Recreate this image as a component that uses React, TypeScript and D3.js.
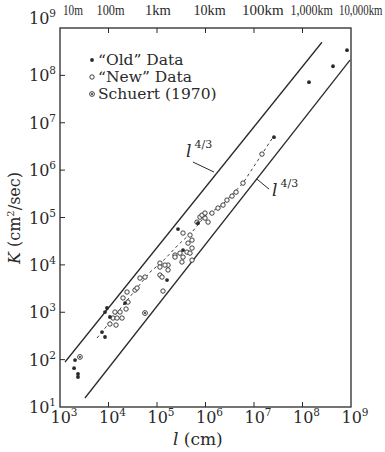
import * as d3 from "d3";

// length scale l (cm), diffusivity K (cm^2/sec)
const oldData: [number, number][] = [
  [2.04e3, 98], [1.95e3, 66], [2.35e3, 50], [2.35e3, 43],
  [8.47e3, 1.01e3], [1.07e4, 793], [7.35e3, 382], [8.47e3, 300],
  [2.19e4, 1.56e3], [9.3e3, 1.23e3], [1.61e5, 4.78e3], [2.71e5, 5.69e4],
  [7.0e5, 7.6e4], [3.44e5, 2.05e4], [2.58e7, 4.97e6], [1.36e8, 7.2e7],
  [4.26e8, 1.56e8], [8.28e8, 3.4e8],
];

const newData: [number, number][] = [
  [1.07e4, 564], [1.24e4, 755], [1.5e4, 755], [1.9e4, 755], [1.43e4, 537],
  [1.73e4, 1.01e3], [1.36e4, 1.01e3], [2.3e4, 1.17e3], [2.52e4, 1.64e3],
  [1.99e4, 2.0e3], [2.41e4, 2.67e3], [3.52e4, 2.94e3], [3.87e4, 3.24e3],
  [4.46e4, 5.27e3], [5.66e4, 5.53e3], [1.15e5, 1.09e4], [1.15e5, 9.0e3],
  [1.15e5, 6.1e3], [1.69e5, 9.9e3], [2.35e5, 1.61e4], [1.33e5, 2.8e3],
  [3.44e5, 4.69e4], [4.79e5, 4.26e4], [5.27e5, 3.33e4], [4.36e5, 2.88e4],
  [4.16e5, 1.86e4], [4.79e5, 1.77e4], [5.27e5, 2.26e4], [2.98e5, 1.77e4],
  [3.44e5, 1.46e4], [3.27e5, 1.15e4], [5.27e5, 1.26e4], [2.35e5, 1.46e4],
  [1.46e5, 9.9e3], [1.27e5, 5.53e3], [1.69e5, 7.8e3], [6.68e5, 8.0e4],
  [7.7e5, 1.02e5], [9.77e5, 9.7e4], [1.13e6, 8.0e4], [8.47e5, 1.12e5],
  [9.77e5, 1.24e5], [1.36e6, 1.24e5], [1.81e6, 1.58e5], [2.3e6, 1.83e5],
  [2.77e6, 2.33e5], [3.52e6, 2.83e5], [4.26e6, 3.43e5], [5.93e6, 5.32e5],
  [1.46e7, 2.18e6],
];

const schuertData: [number, number][] = [[2.58e3, 114], [5.66e4, 962]];

// dashed curve through the new data
const trendData: [number, number][] = [
  [5.8e3, 286], [1.07e4, 621], [2.09e4, 1.49e3], [3.87e4, 3.24e3],
  [7.18e4, 7.05e3], [1.27e5, 1.15e4], [2.71e5, 2.62e4], [5.27e5, 4.92e4],
  [9.77e5, 1.07e5], [2.19e6, 1.83e5], [5.93e6, 5.32e5], [1.46e7, 2.18e6],
  [2.47e7, 4.97e6],
];

// the two l^{4/3} guide lines
const upperLine: [number, number][] = [[1.27e3, 89], [2.52e8, 5.0e8]];
const lowerLine: [number, number][] = [[3.27e3, 15.5], [9.53e8, 2.09e8]];

const xTicks = [1e3, 1e4, 1e5, 1e6, 1e7, 1e8, 1e9];
const yTicks = [1e1, 1e2, 1e3, 1e4, 1e5, 1e6, 1e7, 1e8, 1e9];
const kmLabels = ["10m", "100m", "1km", "10km", "100km", "1,000km", "10,000km"];
// horizontal squeeze of each top label (the print uses condensed digits)
const kmSqueeze = [0.75, 0.82, 0.97, 0.94, 1.0, 0.8, 0.72];
const legendItems = ["\u201COld\u201D Data", "\u201CNew\u201D Data", "Schuert (1970)"];

const W = 385;
const H = 452;
const ink = "#2a2a2a";
const font = "'DejaVu Serif', serif";

export default function App() {
  const x = d3.scaleLog().domain([1e3, 1e9]).range([60, 351]);
  const y = d3.scaleLog().domain([1e1, 1e9]).range([407, 28]);
  const line = d3.line<[number, number]>().x((d) => x(d[0])).y((d) => y(d[1]));
  const exp = (v: number) => Math.round(Math.log10(v));

  const marker = (kind: number, cx: number, cy: number, key: string | number) => {
    if (kind === 0) return <circle key={key} cx={cx} cy={cy} r={1.9} fill={ink} />;
    if (kind === 1)
      return <circle key={key} cx={cx} cy={cy} r={2.2} fill="white" stroke={ink} strokeWidth={0.9} />;
    return (
      <g key={key}>
        <circle cx={cx} cy={cy} r={2.4} fill="white" stroke={ink} strokeWidth={0.9} />
        <circle cx={cx} cy={cy} r={1} fill={ink} />
      </g>
    );
  };

  return (
    <svg width={W} height={H} style={{ position: "absolute", left: 0, top: 0, background: "white" }} fontFamily={font}>
      {/* frame */}
      <rect x={60} y={28} width={291} height={379} fill="none" stroke={ink} strokeWidth={1.3} />

      {/* ticks */}
      {xTicks.slice(1, -1).map((t) => (
        <g key={"xt" + t}>
          <line x1={x(t)} x2={x(t)} y1={407} y2={402} stroke={ink} />
          <line x1={x(t)} x2={x(t)} y1={28} y2={33} stroke={ink} />
        </g>
      ))}
      {yTicks.slice(1, -1).map((t) => (
        <line key={"yt" + t} x1={60} x2={65} y1={y(t)} y2={y(t)} stroke={ink} />
      ))}

      {/* bottom tick labels */}
      {xTicks.map((t) => (
        <text key={"xl" + t} x={x(t) + 4} y={423} textAnchor="middle" fontSize={16} fill={ink}>
          10<tspan fontSize={10.5} dy={-7}>{exp(t)}</tspan>
        </text>
      ))}
      {/* left tick labels */}
      {yTicks.map((t, i) => (
        <text key={"yl" + t} x={56} y={y(t) + (i === yTicks.length - 1 ? -4 : 6)} textAnchor="end" fontSize={16} fill={ink}>
          10<tspan fontSize={10.5} dy={-7}>{exp(t)}</tspan>
        </text>
      ))}
      {/* top distance labels */}
      {xTicks.map((t, i) => (
        <text
          key={"km" + t}
          transform={`translate(${i === 0 ? x(t) + 3 : x(t) - 12},15) scale(${kmSqueeze[i]},1)`}
          fontSize={15}
          fontFamily="'Liberation Serif', serif"
          fill={ink}
        >
          {kmLabels[i]}
        </text>
      ))}

      {/* axis titles */}
      <text x={173} y={445} fontSize={17} fill={ink}>
        <tspan fontStyle="italic">l</tspan> (cm)
      </text>
      <text transform="translate(20,218) rotate(-90)" textAnchor="middle" fontSize={16} fill={ink}>
        <tspan fontStyle="italic">K</tspan> (cm<tspan fontSize={10} dy={-6}>2</tspan>
        <tspan dy={6}>/sec)</tspan>
      </text>

      {/* guide lines */}
      <path d={line(upperLine) ?? ""} stroke={ink} strokeWidth={1.3} fill="none" />
      <path d={line(lowerLine) ?? ""} stroke={ink} strokeWidth={1.3} fill="none" />
      <line x1={x(5.52e5)} y1={y(1.48e6)} x2={x(1.5e6)} y2={y(9.1e5)} stroke={ink} strokeWidth={1} />
      <line x1={x(1.15e7)} y1={y(6.46e5)} x2={x(2.04e7)} y2={y(3.97e5)} stroke={ink} strokeWidth={1} />
      <text x={x(3.96e5)} y={y(1.88e6)} fontSize={17} fontStyle="italic" fill={ink}>
        l<tspan fontSize={11} fontStyle="normal" dy={-9} dx={3}>4/3</tspan>
      </text>
      <text x={x(2.35e7)} y={y(2.83e5)} fontSize={17} fontStyle="italic" fill={ink}>
        l<tspan fontSize={11} fontStyle="normal" dy={-9} dx={3}>4/3</tspan>
      </text>

      {/* dashed trend */}
      <path d={line(trendData) ?? ""} stroke={ink} strokeWidth={0.9} strokeDasharray="3,3" fill="none" />

      {/* data */}
      {newData.map((d, i) => marker(1, x(d[0]), y(d[1]), "n" + i))}
      {oldData.map((d, i) => marker(0, x(d[0]), y(d[1]), "o" + i))}
      {schuertData.map((d, i) => marker(2, x(d[0]), y(d[1]), "s" + i))}

      {/* legend */}
      {legendItems.map((s, i) => (
        <g key={s} transform={`translate(92,${60 + i * 17})`}>
          {marker(i, 0, 0, "lg" + i)}
          <text x={6} y={5} fontSize={15.5} fill={ink}>
            {s}
          </text>
        </g>
      ))}
    </svg>
  );
}
